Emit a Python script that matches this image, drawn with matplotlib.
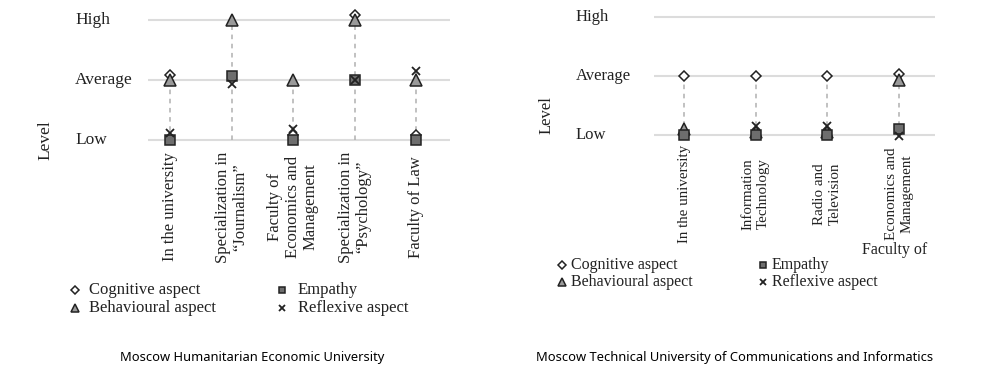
import matplotlib
matplotlib.use("Agg")
import matplotlib.pyplot as plt
import matplotlib.transforms as mtransforms
from matplotlib.lines import Line2D
import numpy as np

W, H = 985, 377
nan = np.nan

# levels on the y axis
level_names = ["Low", "Average", "High"]
level_values = [1, 2, 3]

series_names = ["Cognitive aspect", "Behavioural aspect", "Empathy", "Reflexive aspect"]

# left chart
left_title = "Moscow Humanitarian Economic University"
left_cats = ["In the university",
             "Specialization in\n\u201cJournalism\u201d",
             "Faculty of\nEconomics and\nManagement",
             "Specialization in\n\u201cPsychology\u201d",
             "Faculty of Law"]
left_cognitive = [2.08, nan, 1.08, 3.08, 1.08]
left_behavioural = [2.0, 3.0, 2.0, 3.0, 2.0]
left_empathy = [1.0, 2.07, 1.0, 2.0, 1.0]
left_reflexive = [1.12, 1.93, 1.18, 2.0, 2.15]

# right chart
right_title = "Moscow Technical University of Communications and Informatics"
right_cats = ["In the university",
              "Information\nTechnology",
              "Radio and\nTelevision",
              "Economics and\nManagement"]
right_cognitive = [2.0, 2.0, 2.0, 2.04]
right_behavioural = [1.1, 1.05, 1.05, 1.93]
right_empathy = [1.0, 1.0, 1.0, 1.1]
right_reflexive = [nan, 1.16, 1.16, 0.98]

SERIF = "Liberation Serif"
INK = "#222222"
styles = [
    dict(marker="D", ms=5.5, mfc="white", mec=INK, mew=1.1),
    dict(marker="^", ms=8, mfc="#9a9a9a", mec=INK, mew=1.1),
    dict(marker="s", ms=6.5, mfc="#6e6e6e", mec=INK, mew=1.1),
    dict(marker="x", ms=6, mec=INK, mew=1.3),
]

fig = plt.figure(figsize=(W / 100, H / 100), dpi=100)


def fx(x):
    return x / W


def fy(y):
    return 1 - y / H


def panel(x0, x1, y_high, y_low, cats, values, xlim, label_x, level_x, cat_y,
          tick_fs, cat_fs, cat_ls):
    unit = (y_low - y_high) / 2.0
    top = y_high - 0.2 * unit
    bot = y_low + 0.2 * unit
    ax = fig.add_axes([fx(x0), fy(bot), fx(x1) - fx(x0), fy(top) - fy(bot)])
    ax.set_xlim(*xlim)
    ax.set_ylim(0.8, 3.2)
    ax.axis("off")
    for v in level_values:
        ax.axhline(v, color="#dcdcdc", lw=1.5, zorder=0)
    x = np.arange(len(cats))
    tops = np.nanmax(np.array(values), axis=0)
    ax.vlines(x, 1, tops, colors="#b0b0b0", linestyles=(0, (3, 3)), lw=1.1, zorder=1)
    for vals, st in zip(values, styles):
        ax.plot(x, vals, ls="none", zorder=3, clip_on=False, **st)

    tr_y = mtransforms.blended_transform_factory(fig.transFigure, ax.transData)
    for name, v in zip(level_names, level_values):
        ax.text(fx(level_x), v, name, transform=tr_y, ha="left", va="center",
                fontsize=tick_fs, family=SERIF, color=INK)
    fig.text(fx(label_x[0]), fy(label_x[1]), "Level", rotation=90, ha="center",
             va="center", fontsize=tick_fs, family=SERIF, color=INK)

    tr_x = mtransforms.blended_transform_factory(ax.transData, fig.transFigure)
    for i, c in enumerate(cats):
        ax.text(i, fy(cat_y), c, transform=tr_x, rotation=90, ha="center",
                va="center", multialignment="center", fontsize=cat_fs,
                family=SERIF, color=INK, linespacing=cat_ls)
    return ax


def legend(col_x, text_x, row_y, fs):
    k = 0
    for c in range(2):
        for r in range(2):
            st = dict(styles[k])
            st["ms"] = st["ms"] * 0.7
            fig.add_artist(Line2D([fx(col_x[c])], [fy(row_y[r])], ls="none",
                                  transform=fig.transFigure, **st))
            fig.text(fx(text_x[c]), fy(row_y[r]), series_names[k], ha="left",
                     va="center", fontsize=fs, family=SERIF, color=INK)
            k += 1


panel(148, 450, 20, 140, left_cats,
      [left_cognitive, left_behavioural, left_empathy, left_reflexive],
      (-0.36, 4.55), (45, 140), 75, 207, 12.5, 12, 1.15)
legend([75, 282], [89, 298], [290, 308], 12)

panel(654, 935, 17, 135, right_cats,
      [right_cognitive, right_behavioural, right_empathy, right_reflexive],
      (-0.42, 3.5), (547, 115), 576, 194, 12, 10.8, 1.2)
fig.text(fx(895), fy(250), "Faculty of", ha="center", va="center",
         fontsize=11.5, family=SERIF, color=INK)
legend([562, 763], [571, 772], [265, 282], 11.5)

fig.text(fx(252), fy(358), left_title, ha="center", va="center",
         fontsize=9.3, family="Noto Sans", color="black")
fig.text(fx(735), fy(358), right_title, ha="center", va="center",
         fontsize=9.3, family="Noto Sans", color="black")

fig.savefig("out.png", dpi=100, facecolor="white")
